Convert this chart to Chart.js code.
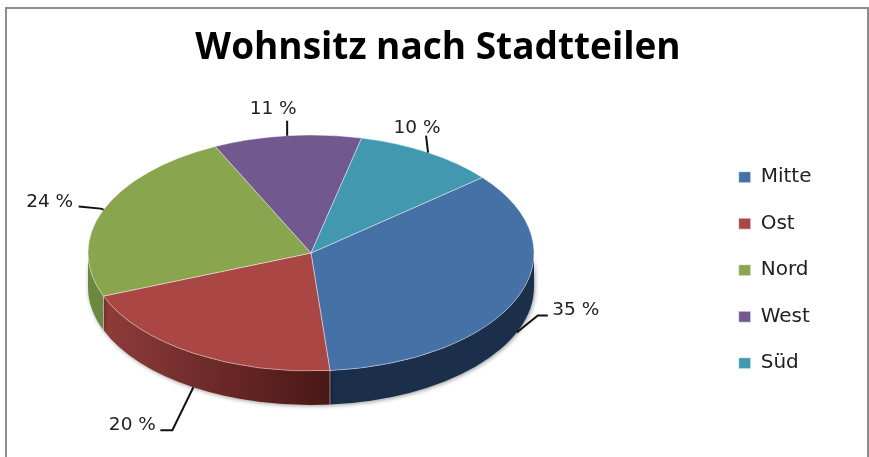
<!DOCTYPE html>
<html>
<head>
<meta charset="utf-8">
<title>Wohnsitz nach Stadtteilen</title>
<script src="https://cdn.jsdelivr.net/npm/chart.js@4"></script>
<style>
  html, body { margin: 0; padding: 0; background: #fff; overflow: hidden; }
  canvas { display: block; }
</style>
</head>
<body>
<canvas id="pie" width="869" height="457"></canvas>
<script>
// values (slice angles say a bit more than the rounded labels)
const districts = ['Mitte', 'Ost', 'Nord', 'West', 'Süd'];
const shares = [34.7, 20.4, 23.9, 10.7, 10.3];
const topColors = ['#4571a7', '#aa4643', '#89a54e', '#71588f', '#4198af'];
const sideColors = [['#1b2f4a', '#1b2f4a'], ['#8f3c3a', '#481716'], ['#6c8840', '#6c8840'], ['#4a3a5e', '#4a3a5e'], ['#2a6474', '#2a6474']];

// the flat pie gets squashed into a tilted disc
const pieX = 311, pieY = 253, pieRadius = 223, tilt = 0.529, depth = 34;

// leader line bends and text centre, relative to the point on the rim
const labelLayout = [
  { bends: [[21, -17], [31, -17]], text: [59, -22] },
  { bends: [[-21, 43], [-33, 43]], text: [-61, 38] },
  { bends: [[-3, -1], [-25, -3]], text: [-54, -7] },
  { bends: [[0, -15]], text: [-14, -27] },
  { bends: [[-2, -17]], text: [-11, -24] }
];

function sideOf(arc, i, ctx, dx, dy) {
  const from = Math.max(arc.startAngle, 0);
  const to = Math.min(arc.endAngle, Math.PI);
  if (from >= to) return false;
  const r = arc.outerRadius;
  const x = arc.x + dx;
  const y = arc.y + dy;
  ctx.beginPath();
  ctx.ellipse(x, y, r, r * tilt, 0, from, to);
  ctx.ellipse(x, y + depth, r, r * tilt, 0, to, from, true);
  ctx.closePath();
  const grad = ctx.createLinearGradient(x + r * Math.cos(to), 0, x + r * Math.cos(from), 0);
  grad.addColorStop(0, sideColors[i][0]);
  grad.addColorStop(1, sideColors[i][1]);
  ctx.fillStyle = grad;
  return true;
}

const framePlugin = {
  id: 'frame',
  beforeDraw(chart) {
    const ctx = chart.ctx;
    ctx.save();
    ctx.strokeStyle = '#8c8c8c';
    ctx.lineWidth = 2;
    ctx.beginPath();
    ctx.moveTo(6, 457);
    ctx.lineTo(6, 8);
    ctx.lineTo(868, 8);
    ctx.lineTo(868, 457);
    ctx.stroke();
    ctx.restore();
  }
};

const discPlugin = {
  id: 'disc',
  beforeDatasetsDraw(chart) {
    const ctx = chart.ctx;
    const arcs = chart.getDatasetMeta(0).data;
    const dx = pieX - arcs[0].x;
    const dy = pieY - arcs[0].y;

    // side wall first, with its soft shadow
    ctx.save();
    ctx.shadowColor = 'rgba(0,0,0,0.4)';
    ctx.shadowBlur = 4;
    ctx.shadowOffsetX = 1;
    ctx.shadowOffsetY = 1;
    arcs.forEach((arc, i) => {
      if (sideOf(arc, i, ctx, dx, dy)) ctx.fill();
    });
    ctx.restore();

    ctx.save();
    ctx.strokeStyle = 'rgba(255,255,255,0.45)';
    ctx.lineWidth = 1;
    arcs.forEach((arc) => {
      if (arc.endAngle > 0 && arc.endAngle < Math.PI) {
        const x = pieX + arc.outerRadius * Math.cos(arc.endAngle);
        const y = pieY + arc.outerRadius * tilt * Math.sin(arc.endAngle);
        ctx.beginPath();
        ctx.moveTo(x, y);
        ctx.lineTo(x, y + depth);
        ctx.stroke();
      }
    });
    ctx.restore();

    ctx.save();
    ctx.translate(pieX, pieY);
    ctx.scale(1, tilt);
    ctx.translate(-arcs[0].x, -arcs[0].y);
  },
  afterDatasetsDraw(chart) {
    chart.ctx.restore();
  },
  afterDraw(chart) {
    const ctx = chart.ctx;
    const arcs = chart.getDatasetMeta(0).data;
    ctx.save();
    ctx.font = '18.5px "DejaVu Sans"';
    ctx.textAlign = 'center';
    ctx.textBaseline = 'middle';
    arcs.forEach((arc, i) => {
      const mid = (arc.startAngle + arc.endAngle) / 2;
      const x = pieX + arc.outerRadius * Math.cos(mid);
      let y = pieY + arc.outerRadius * tilt * Math.sin(mid);
      // rim points on the front sit on the lower edge of the wall
      if (Math.sin(mid) > 0.2) y += depth;
      const place = labelLayout[i];
      ctx.strokeStyle = '#111';
      ctx.lineWidth = 2;
      ctx.beginPath();
      ctx.moveTo(x, y);
      place.bends.forEach(b => ctx.lineTo(x + b[0], y + b[1]));
      ctx.stroke();
      ctx.fillStyle = '#222';
      ctx.fillText(Math.round(shares[i]) + ' %', x + place.text[0], y + place.text[1]);
    });
    ctx.restore();
  }
};

new Chart(document.getElementById('pie'), {
  type: 'pie',
  data: {
    labels: districts,
    datasets: [{
      data: shares,
      backgroundColor: topColors,
      borderColor: 'rgba(255,255,255,0.55)',
      borderWidth: 1,
      radius: pieRadius,
      rotation: 50.2
    }]
  },
  options: {
    responsive: false,
    animation: false,
    layout: { padding: { left: 54.5, right: 47.5, top: 0, bottom: 0 } },
    plugins: {
      tooltip: { enabled: false },
      title: {
        display: true,
        text: 'Wohnsitz nach Stadtteilen',
        color: '#000',
        font: { family: '"Open Sans"', size: 37, weight: 'bold' },
        padding: { top: 26, bottom: 13 }
      },
      legend: {
        position: 'right',
        fullSize: false,
        labels: {
          color: '#222',
          font: { family: '"DejaVu Sans"', size: 20 },
          boxWidth: 12,
          boxHeight: 11,
          padding: 26.5
        }
      }
    }
  },
  plugins: [framePlugin, discPlugin]
});
</script>
</body>
</html>
